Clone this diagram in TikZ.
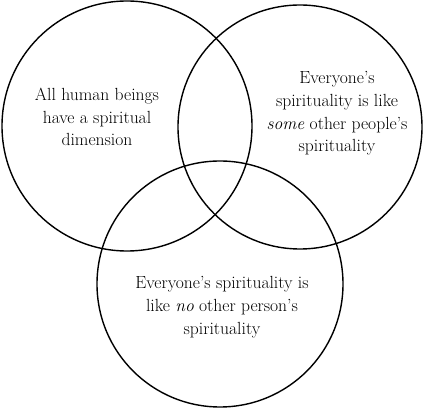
\documentclass[tikz,border=0pt]{standalone}
\usetikzlibrary{positioning}

\tikzset{
  ring/.style={circle, draw=black, line width=1.2pt, inner sep=0pt},
  label text/.style={align=center, font=\fontsize{15}{19.5}\selectfont}
}

\begin{document}
\begin{tikzpicture}
  % 图幅 (425 x 408 px, 1 px = 0.03 cm)
  \useasboundingbox (0,0) rectangle (12.75,12.24);

  % 1. 三个圆
  \node[ring, minimum size=7.5cm]  (human) at (3.81,8.46) {};
  \node[ring, minimum size=7.32cm] (some)  at (9.00,8.43) {};
  \node[ring, minimum size=7.38cm] (no)    at (6.60,3.72) {};

  % 2. 圆内文字
  \node[label text] (humantext) at (2.91,8.73)
    {All human beings\\have a spiritual\\dimension};
  \node[label text] (sometext) at (10.11,8.84)
    {Everyone's\\spirituality is like\\\emph{some} other people's\\spirituality};
  \node[label text] (notext) at (6.66,3.03)
    {Everyone's spirituality is\\like \emph{no} other person's\\spirituality};

\end{tikzpicture}
\end{document}
